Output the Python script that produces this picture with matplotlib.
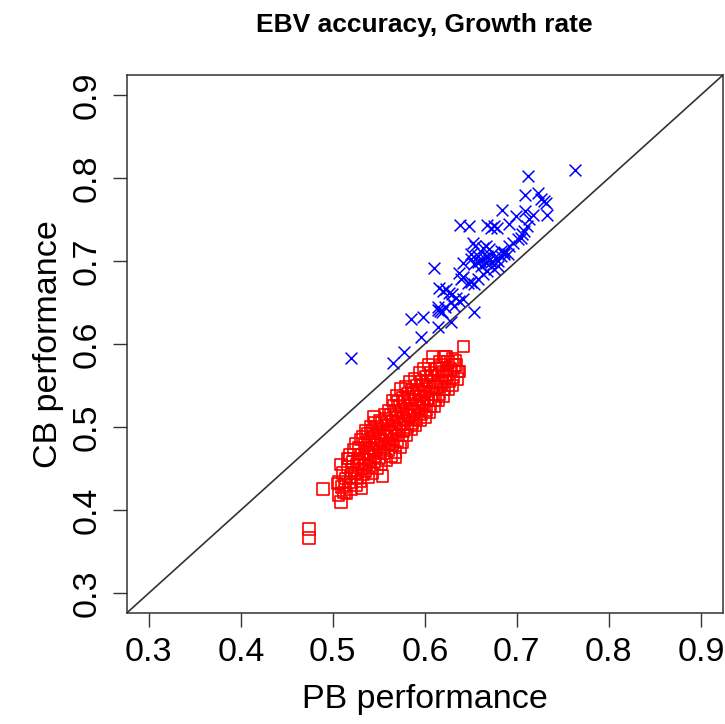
import matplotlib
matplotlib.use("Agg")
import matplotlib.pyplot as plt

# ── data ─────────────────────────────────────────────────────
# crossbred-based (blue crosses)
cb_x = [0.763, 0.712, 0.709, 0.723, 0.726, 0.729, 0.732, 0.733, 0.684, 0.709,
        0.699, 0.718, 0.713, 0.638, 0.648, 0.668, 0.672, 0.675, 0.678, 0.691,
        0.711, 0.708, 0.706, 0.704, 0.701, 0.652, 0.655, 0.663, 0.666, 0.670,
        0.674, 0.683, 0.691, 0.696, 0.650, 0.658, 0.668, 0.686, 0.610, 0.642,
        0.650, 0.653, 0.658, 0.661, 0.668, 0.672, 0.677, 0.683, 0.686, 0.690,
        0.637, 0.639, 0.642, 0.647, 0.650, 0.653, 0.658, 0.615, 0.620, 0.623,
        0.626, 0.630, 0.634, 0.637, 0.641, 0.663, 0.668, 0.675, 0.679, 0.585,
        0.598, 0.614, 0.617, 0.628, 0.632, 0.628, 0.614, 0.596, 0.653, 0.520,
        0.565, 0.577, 0.614, 0.619, 0.622, 0.660, 0.664, 0.666, 0.670, 0.680]
cb_y = [0.809, 0.802, 0.779, 0.782, 0.775, 0.772, 0.770, 0.755, 0.761, 0.760,
        0.754, 0.755, 0.750, 0.743, 0.742, 0.743, 0.740, 0.742, 0.740, 0.744,
        0.742, 0.736, 0.732, 0.728, 0.726, 0.722, 0.718, 0.716, 0.718, 0.714,
        0.710, 0.712, 0.718, 0.722, 0.708, 0.706, 0.706, 0.708, 0.691, 0.698,
        0.702, 0.696, 0.699, 0.694, 0.705, 0.699, 0.702, 0.706, 0.711, 0.708,
        0.686, 0.678, 0.681, 0.674, 0.675, 0.672, 0.678, 0.668, 0.664, 0.666,
        0.662, 0.660, 0.656, 0.652, 0.654, 0.684, 0.688, 0.690, 0.694, 0.630,
        0.633, 0.644, 0.640, 0.650, 0.646, 0.626, 0.620, 0.608, 0.638, 0.583,
        0.577, 0.590, 0.641, 0.638, 0.644, 0.700, 0.703, 0.697, 0.701, 0.700]

# purebred-based (red squares)
pb_x = [0.474, 0.474, 0.489, 0.509, 0.507, 0.516, 0.568, 0.554,
        0.505, 0.506,
        0.510, 0.511, 0.509, 0.512,
        0.515, 0.514, 0.516, 0.517, 0.513,
        0.520, 0.519, 0.521, 0.522, 0.518, 0.520,
        0.525, 0.524, 0.526, 0.527, 0.523, 0.525, 0.526,
        0.530, 0.531, 0.529, 0.532, 0.528, 0.530, 0.533, 0.531,
        0.535, 0.536, 0.534, 0.537, 0.535, 0.533, 0.536, 0.538,
        0.540, 0.541, 0.539, 0.542, 0.540, 0.538, 0.541, 0.543,
        0.545, 0.546, 0.544, 0.547, 0.545, 0.543, 0.546, 0.545, 0.548,
        0.550, 0.551, 0.549, 0.552, 0.550, 0.548, 0.551, 0.553,
        0.555, 0.556, 0.554, 0.557, 0.555, 0.553, 0.556, 0.558,
        0.560, 0.561, 0.559, 0.562, 0.560, 0.558, 0.561, 0.563,
        0.565, 0.566, 0.564, 0.567, 0.565, 0.563, 0.566, 0.565, 0.568,
        0.570, 0.571, 0.569, 0.572, 0.570, 0.568, 0.571, 0.570, 0.573,
        0.575, 0.576, 0.574, 0.577, 0.575, 0.573, 0.576, 0.574,
        0.580, 0.581, 0.579, 0.582, 0.580, 0.578, 0.581, 0.579,
        0.585, 0.586, 0.584, 0.587, 0.585, 0.583, 0.586, 0.584,
        0.590, 0.591, 0.589, 0.592, 0.590, 0.588, 0.591, 0.589,
        0.595, 0.596, 0.594, 0.597, 0.595, 0.593, 0.596, 0.594,
        0.600, 0.601, 0.599, 0.602, 0.600, 0.598, 0.601, 0.599,
        0.605, 0.606, 0.604, 0.607, 0.605, 0.603, 0.606, 0.604,
        0.610, 0.611, 0.609, 0.612, 0.610, 0.608, 0.611, 0.609,
        0.615, 0.616, 0.614, 0.617, 0.615, 0.613, 0.616,
        0.620, 0.621, 0.619, 0.622, 0.620, 0.618, 0.621,
        0.625, 0.626, 0.624, 0.627, 0.625, 0.623,
        0.630, 0.631, 0.629, 0.632, 0.630,
        0.635, 0.636, 0.634, 0.633,
        0.637, 0.642]
pb_y = [0.377, 0.366, 0.425, 0.410, 0.434, 0.462, 0.464, 0.441,
        0.432, 0.418,
        0.428, 0.445, 0.455, 0.421,
        0.420, 0.438, 0.452, 0.462, 0.430,
        0.425, 0.440, 0.448, 0.458, 0.466, 0.433,
        0.430, 0.445, 0.455, 0.462, 0.472, 0.480, 0.438,
        0.435, 0.450, 0.458, 0.467, 0.475, 0.485, 0.443, 0.426,
        0.447, 0.455, 0.462, 0.470, 0.478, 0.488, 0.495, 0.440,
        0.452, 0.460, 0.468, 0.475, 0.483, 0.492, 0.500, 0.445,
        0.458, 0.465, 0.472, 0.480, 0.488, 0.496, 0.505, 0.512, 0.450,
        0.462, 0.470, 0.478, 0.485, 0.493, 0.500, 0.508, 0.455,
        0.468, 0.476, 0.483, 0.490, 0.498, 0.505, 0.515, 0.460,
        0.472, 0.480, 0.488, 0.495, 0.503, 0.510, 0.520, 0.465,
        0.478, 0.485, 0.493, 0.500, 0.508, 0.515, 0.525, 0.532, 0.470,
        0.483, 0.490, 0.498, 0.505, 0.512, 0.520, 0.530, 0.538, 0.476,
        0.482, 0.495, 0.503, 0.510, 0.518, 0.525, 0.535, 0.546,
        0.490, 0.500, 0.508, 0.515, 0.522, 0.530, 0.540, 0.548,
        0.498, 0.505, 0.513, 0.520, 0.528, 0.536, 0.545, 0.555,
        0.502, 0.510, 0.518, 0.525, 0.533, 0.540, 0.550, 0.558,
        0.508, 0.515, 0.523, 0.530, 0.538, 0.545, 0.555, 0.565,
        0.512, 0.520, 0.528, 0.535, 0.543, 0.550, 0.560, 0.570,
        0.518, 0.525, 0.533, 0.540, 0.548, 0.556, 0.565, 0.575,
        0.525, 0.532, 0.540, 0.548, 0.555, 0.562, 0.570, 0.584,
        0.532, 0.540, 0.548, 0.555, 0.562, 0.570, 0.578,
        0.537, 0.545, 0.553, 0.560, 0.567, 0.575, 0.585,
        0.545, 0.555, 0.562, 0.570, 0.578, 0.585,
        0.550, 0.560, 0.568, 0.575, 0.582,
        0.558, 0.567, 0.575, 0.580,
        0.567, 0.597]

ticks = [0.3, 0.4, 0.5, 0.6, 0.7, 0.8, 0.9]
titulo = "EBV accuracy, Growth rate"
x_label = "PB performance"
y_label = "CB performance"

# ── figura ───────────────────────────────────────────────────
plt.rcParams["font.family"] = ["Liberation Sans", "DejaVu Sans"]

fig = plt.figure(figsize=(7.25, 7.24), dpi=100)
ax = fig.add_axes([0.1748, 0.1533, 0.8224, 0.7431])

ax.scatter(pb_x, pb_y, marker="s", s=70, facecolors="none",
           edgecolors="#ff0000", linewidths=1.2, zorder=2)
ax.scatter(cb_x, cb_y, marker="x", s=72, color="#0000ff",
           linewidths=1.1, zorder=3)
ax.axline((0.3, 0.3), slope=1, color="#333333", lw=1.2, zorder=1)

ax.set_xlim(0.276, 0.924)
ax.set_ylim(0.276, 0.924)
ax.set_xticks(ticks)
ax.set_yticks(ticks)
ax.set_xticklabels([str(t) for t in ticks])
ax.set_yticklabels([str(t) for t in ticks], rotation=90, va="center")
ax.tick_params(length=10, width=1, color="#333333", labelsize=24.5, pad=7)

for s in ax.spines.values():
    s.set_color("#333333")
    s.set_linewidth(1.1)

ax.set_xlabel(x_label, fontsize=24.5, labelpad=12)
ax.set_ylabel(y_label, fontsize=24.5, labelpad=6)
fig.text(0.585, 0.966, titulo, ha="center", va="center",
         fontsize=19, fontweight="bold")

fig.savefig("out.png", dpi=100)
